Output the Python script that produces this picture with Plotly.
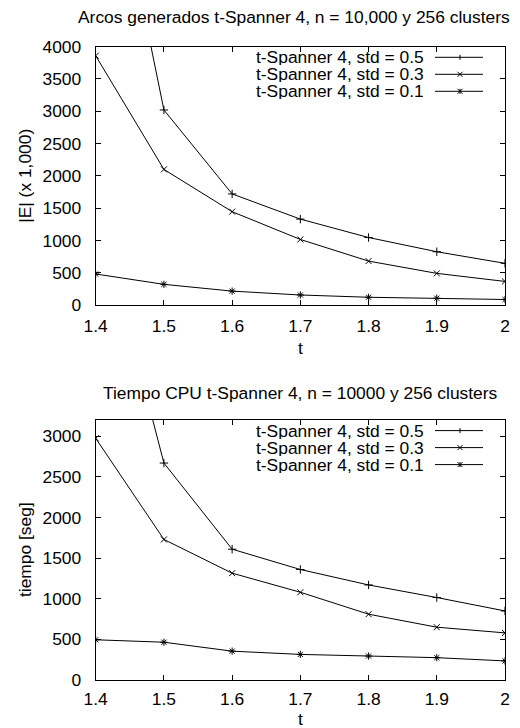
import plotly.graph_objects as go

W, H = 520, 728

# ---- data ----
t_values = [1.4, 1.5, 1.6, 1.7, 1.8, 1.9, 2.0]
x_ticks = [1.4, 1.5, 1.6, 1.7, 1.8, 1.9, 2.0]
x_ticklabels = ["1.4", "1.5", "1.6", "1.7", "1.8", "1.9", "2"]
y_ticks_top = [0, 500, 1000, 1500, 2000, 2500, 3000, 3500, 4000]
y_ticks_bottom = [0, 500, 1000, 1500, 2000, 2500, 3000]

edges_std05 = [8200, 3020, 1720, 1330, 1045, 825, 645]
edges_std03 = [3860, 2100, 1445, 1015, 680, 490, 365]
edges_std01 = [480, 320, 215, 155, 120, 105, 85]

time_std05 = [5900, 2670, 1610, 1360, 1170, 1015, 850]
time_std03 = [2975, 1730, 1315, 1080, 810, 650, 580]
time_std01 = [495, 465, 355, 315, 295, 275, 235]

series_names = ["t-Spanner 4, std = 0.5", "t-Spanner 4, std = 0.3", "t-Spanner 4, std = 0.1"]
symbols = ["cross-thin", "x-thin", "asterisk"]

title_top = "Arcos generados t-Spanner 4, n = 10,000 y 256 clusters"
title_bottom = "Tiempo CPU t-Spanner 4, n = 10000 y 256 clusters"
ytitle_top = "|E| (x 1,000)"
ytitle_bottom = "tiempo [seg]"
xtitle = "t"

FONT = "Liberation Sans, Arial, Helvetica, sans-serif"
FS = 17.4

# ---- layout geometry (pixels) ----
PL, PR = 95.7, 505.0
TOP1, BOT1 = 46.7, 305.0
TOP2, BOT2 = 420.0, 680.0


def px(x):
    return x / W


def py(y):
    return 1 - y / H


fig = go.Figure()

top_sets = [edges_std05, edges_std03, edges_std01]
bot_sets = [time_std05, time_std03, time_std01]

for vals, name, sym in zip(top_sets, series_names, symbols):
    fig.add_trace(go.Scatter(
        x=t_values, y=vals, mode="lines+markers", name=name,
        line=dict(color="black", width=1),
        marker=dict(symbol=sym, size=6, color="black", line=dict(color="black", width=1)),
        xaxis="x", yaxis="y", showlegend=False, cliponaxis=True))

for vals, name, sym in zip(bot_sets, series_names, symbols):
    fig.add_trace(go.Scatter(
        x=t_values, y=vals, mode="lines+markers", name=name,
        line=dict(color="black", width=1),
        marker=dict(symbol=sym, size=6, color="black", line=dict(color="black", width=1)),
        xaxis="x2", yaxis="y2", showlegend=False, cliponaxis=True))

axis_common = dict(
    showline=True, linecolor="black", linewidth=1, mirror="ticks",
    ticks="inside", ticklen=5, tickcolor="black", tickwidth=1,
    showgrid=False, zeroline=False, automargin=False,
    tickfont=dict(family=FONT, size=FS, color="black"),
)

fig.update_layout(
    width=W, height=H,
    margin=dict(l=0, r=0, t=0, b=0, pad=0),
    paper_bgcolor="white", plot_bgcolor="white",
    font=dict(family=FONT, size=FS, color="black"),
    xaxis=dict(domain=[px(PL), px(PR)], anchor="y", range=[1.4, 2.0],
               tickvals=x_ticks, ticktext=x_ticklabels, ticklabelstandoff=5, **axis_common),
    yaxis=dict(domain=[py(BOT1), py(TOP1)], anchor="x", range=[0, 4000],
               tickvals=y_ticks_top, ticklabelstandoff=10, **axis_common),
    xaxis2=dict(domain=[px(PL), px(PR)], anchor="y2", range=[1.4, 2.0],
                tickvals=x_ticks, ticktext=x_ticklabels, ticklabelstandoff=3, **axis_common),
    yaxis2=dict(domain=[py(BOT2), py(TOP2)], anchor="x2", range=[0, 3200],
                tickvals=y_ticks_bottom, ticklabelstandoff=10, **axis_common),
    showlegend=False,
)

annotations = []


def add_text(text, x, y, xanchor="center", yanchor="middle", angle=0, height=None):
    a = dict(text=text, x=px(x), y=py(y), xref="paper", yref="paper",
             xanchor=xanchor, yanchor=yanchor, showarrow=False,
             textangle=angle, borderpad=0,
             font=dict(family=FONT, size=FS, color="black"))
    if height is not None:
        a["height"] = height
        a["valign"] = "middle"
    annotations.append(a)


add_text(title_top, 294, 17)
add_text(title_bottom, 300, 393)
add_text(xtitle, 300, 348)
add_text(xtitle, 300, 728, yanchor="bottom", height=17)
add_text(ytitle_top, 25, (TOP1 + BOT1) / 2, angle=-90)
add_text(ytitle_bottom, 25, (TOP2 + BOT2) / 2, angle=-90)

shapes = []


def seg(x0, y0, x1, y1):
    shapes.append(dict(type="line", xref="paper", yref="paper",
                       x0=px(x0), y0=py(y0), x1=px(x1), y1=py(y1),
                       line=dict(color="black", width=1)))


legend_offsets = [10.6, 27.6, 44.6]
for top in (TOP1, TOP2):
    for i, (name, off) in enumerate(zip(series_names, legend_offsets)):
        yc = top + off
        add_text(name, 425, yc, xanchor="right", height=16)
        seg(435, yc, 483, yc)
        mx, r = 460, 2.5
        if i in (0, 2):
            seg(mx, yc - r, mx, yc + r)
        if i in (1, 2):
            seg(mx - r, yc - r, mx + r, yc + r)
            seg(mx - r, yc + r, mx + r, yc - r)

fig.update_layout(annotations=annotations, shapes=shapes)

fig.write_html("out.html",
               config={"displayModeBar": False},
               post_script="document.body.style.margin='0';document.body.style.overflow='hidden';")
